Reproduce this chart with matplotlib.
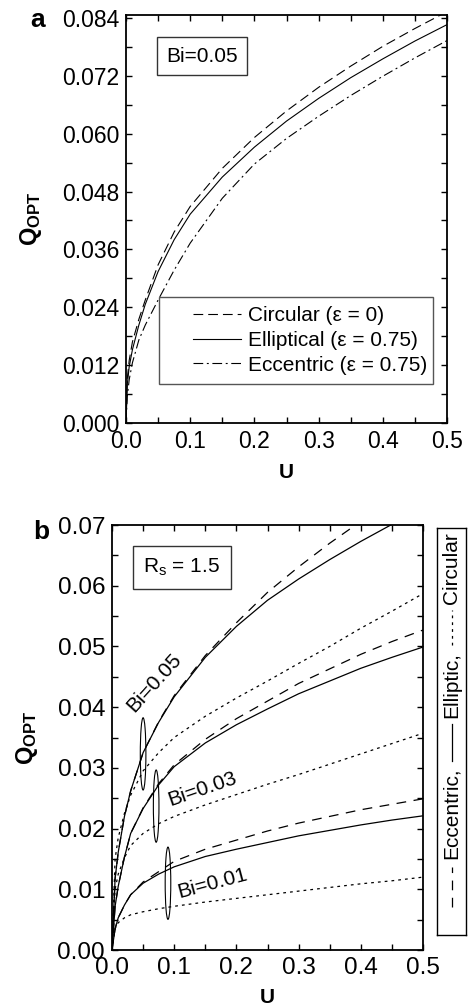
import matplotlib
matplotlib.use("Agg")
import matplotlib.pyplot as plt
from matplotlib.patches import Ellipse, Rectangle
from matplotlib.ticker import MultipleLocator

plt.rcParams['font.family'] = ['Liberation Sans', 'DejaVu Sans']
plt.rcParams['mathtext.fontset'] = 'custom'
plt.rcParams['mathtext.rm'] = 'Liberation Sans'
plt.rcParams['mathtext.it'] = 'Liberation Sans:italic'
plt.rcParams['mathtext.bf'] = 'Liberation Sans:bold'
plt.rcParams['lines.scale_dashes'] = False

# ---- panel a data (Bi = 0.05) ----
u_a = [0, 0.002, 0.005, 0.01, 0.02, 0.03, 0.05, 0.075, 0.1, 0.15,
       0.2, 0.25, 0.3, 0.35, 0.4, 0.45, 0.5]
q_circular_a = [0, 0.0092, 0.0130, 0.0168, 0.0215, 0.0255, 0.0328, 0.0396, 0.0449,
                0.0528, 0.0592, 0.0647, 0.0696, 0.0740, 0.0781, 0.0818, 0.0853]
q_elliptical_a = [0, 0.0080, 0.0117, 0.0152, 0.0203, 0.0246, 0.0314, 0.0380, 0.0433,
                  0.0510, 0.0572, 0.0626, 0.0673, 0.0716, 0.0755, 0.0792, 0.0826]
q_eccentric_a = [0, 0.0055, 0.0090, 0.0125, 0.0172, 0.0203, 0.0255, 0.0317, 0.0373,
                 0.0466, 0.0537, 0.0590, 0.0636, 0.0679, 0.0719, 0.0757, 0.0793]
labels_a = ["Circular (\u03b5 = 0)", "Elliptical (\u03b5 = 0.75)", "Eccentric (\u03b5 = 0.75)"]

# ---- panel b data (Rs = 1.5) ----
u_b = [0, 0.005, 0.01, 0.02, 0.03, 0.05, 0.075, 0.1, 0.15,
       0.2, 0.25, 0.3, 0.35, 0.4, 0.45, 0.5]
bi_values = ["0.05", "0.03", "0.01"]
q_eccentric_b = {
    "0.05": [0, 0.0118, 0.0161, 0.0220, 0.0262, 0.0325, 0.0376, 0.0419, 0.0485,
             0.0539, 0.0589, 0.0631, 0.0670, 0.0706, 0.0741, 0.0772],
    "0.03": [0, 0.0072, 0.0105, 0.0153, 0.0192, 0.0234, 0.0274, 0.0305, 0.0347,
             0.0381, 0.0410, 0.0439, 0.0463, 0.0487, 0.0508, 0.0527],
    "0.01": [0, 0.0035, 0.0053, 0.0074, 0.0091, 0.0112, 0.0129, 0.0146, 0.0166,
             0.0181, 0.0196, 0.0209, 0.0220, 0.0231, 0.0240, 0.0249],
}
q_elliptic_b = {
    "0.05": [0, 0.0118, 0.0161, 0.0220, 0.0262, 0.0325, 0.0375, 0.0417, 0.0482,
             0.0533, 0.0576, 0.0611, 0.0643, 0.0673, 0.0701, 0.0727],
    "0.03": [0, 0.0072, 0.0105, 0.0153, 0.0192, 0.0233, 0.0272, 0.0302, 0.0341,
             0.0371, 0.0397, 0.0422, 0.0443, 0.0464, 0.0482, 0.0499],
    "0.01": [0, 0.0035, 0.0053, 0.0074, 0.0091, 0.0110, 0.0125, 0.0137, 0.0154,
             0.0166, 0.0177, 0.0188, 0.0197, 0.0206, 0.0214, 0.0221],
}
q_circular_b = {
    "0.05": [0, 0.0150, 0.0185, 0.0225, 0.0255, 0.0295, 0.0325, 0.0350, 0.0385,
             0.0415, 0.0443, 0.0472, 0.0500, 0.0530, 0.0558, 0.0587],
    "0.03": [0, 0.0100, 0.0125, 0.0152, 0.0172, 0.0192, 0.0208, 0.0220, 0.0239,
             0.0256, 0.0273, 0.0289, 0.0306, 0.0323, 0.0340, 0.0357],
    "0.01": [0, 0.0035, 0.0045, 0.0053, 0.0058, 0.0063, 0.0068, 0.0072, 0.0079,
             0.0085, 0.0091, 0.0097, 0.0103, 0.0109, 0.0114, 0.0120],
}
# annotation ellipses / labels for each Bi group (U, Q)
ellipse_pos = {"0.05": (0.050, 0.0323), "0.03": (0.071, 0.0237), "0.01": (0.090, 0.0110)}
label_pos = {"0.05": (0.068, 0.0440, 48), "0.03": (0.146, 0.0265, 19), "0.01": (0.161, 0.0110, 15)}

W, H = 468, 1005
fig = plt.figure(figsize=(W / 100, H / 100), dpi=100)


def style_axes(ax, fs):
    for s in ax.spines.values():
        s.set_linewidth(1.3)
    ax.tick_params(which='both', direction='in', top=True, right=True,
                   length=4, width=1, labelsize=fs, pad=5)


# ---------------- panel a ----------------
ax1 = fig.add_axes([126 / W, 1 - 423 / H, 321 / W, 408 / H])
ax1.plot(u_a, q_circular_a, color='black', lw=0.8, dashes=(7, 3.6), label=labels_a[0])
ax1.plot(u_a, q_elliptical_a, color='black', lw=0.8, label=labels_a[1])
ax1.plot(u_a, q_eccentric_a, color='black', lw=0.8, dashes=(7, 2.6, 1.4, 2.6), label=labels_a[2])
ax1.set_xlim(0, 0.5)
ax1.set_ylim(0, 0.0846)
ax1.xaxis.set_major_locator(MultipleLocator(0.1))
ax1.xaxis.set_minor_locator(MultipleLocator(0.05))
ax1.yaxis.set_major_locator(MultipleLocator(0.012))
ax1.yaxis.set_minor_locator(MultipleLocator(0.006))
ax1.xaxis.set_major_formatter(lambda v, p: f"{v:.1f}")
ax1.yaxis.set_major_formatter(lambda v, p: f"{v:.3f}")
style_axes(ax1, 16.5)
ax1.set_xlabel("U", fontsize=15, fontweight='bold')
ax1.xaxis.set_label_coords(0.5, -0.098)
ax1.set_ylabel(r"$\mathbf{Q}_{\mathbf{OPT}}$", fontsize=17)
ax1.yaxis.set_label_coords(-0.255, 0.5)
# legend box is wider than its contents (extra space on the left)
ax1.add_patch(Rectangle((0.103, 0.0956), 0.853, 0.213, transform=ax1.transAxes,
                        fill=True, fc='white', ec='#555555', lw=1.0, zorder=4))
leg = ax1.legend(loc='center', bbox_to_anchor=(0.573, 0.202), fontsize=15,
                 frameon=False, handlelength=2.3, handletextpad=0.35,
                 labelspacing=0.27, borderpad=0.0)
leg.set_zorder(5)
ax1.text(0.237, 0.899, "Bi=0.05", transform=ax1.transAxes, fontsize=15,
         ha='center', va='center',
         bbox=dict(boxstyle='square,pad=0.45', fc='white', ec='#333333', lw=1.0))
fig.text(30 / W, 1 - 20 / H, "a", fontsize=19, fontweight='bold', ha='left', va='center')

# ---------------- panel b ----------------
ax2 = fig.add_axes([112 / W, 1 - 950 / H, 311 / W, 425 / H])
for bi in bi_values:
    ax2.plot(u_b, q_eccentric_b[bi], color='black', lw=0.9, dashes=(7, 5.4))
    ax2.plot(u_b, q_elliptic_b[bi], color='black', lw=0.9)
    ax2.plot(u_b, q_circular_b[bi], color='black', lw=0.9, dashes=(2.0, 2.9))
    ex, ey = ellipse_pos[bi]
    ax2.add_patch(Ellipse((ex, ey), width=0.009, height=0.0119, fill=False,
                          lw=0.8, color='black'))
    lx, ly, rot = label_pos[bi]
    ax2.text(lx, ly, "Bi=" + bi, fontsize=15, rotation=rot, rotation_mode='anchor',
             ha='center', va='center')
ax2.set_xlim(0, 0.5)
ax2.set_ylim(0, 0.07)
ax2.xaxis.set_major_locator(MultipleLocator(0.1))
ax2.xaxis.set_minor_locator(MultipleLocator(0.05))
ax2.yaxis.set_major_locator(MultipleLocator(0.01))
ax2.yaxis.set_minor_locator(MultipleLocator(0.005))
ax2.xaxis.set_major_formatter(lambda v, p: f"{v:.1f}")
ax2.yaxis.set_major_formatter(lambda v, p: f"{v:.2f}")
style_axes(ax2, 17.5)
ax2.set_xlabel("U", fontsize=15, fontweight='bold')
ax2.xaxis.set_label_coords(0.5, -0.089)
ax2.set_ylabel(r"$\mathbf{Q}_{\mathbf{OPT}}$", fontsize=17)
ax2.yaxis.set_label_coords(-0.23, 0.5)
ax2.text(0.225, 0.90, r"R$_\mathregular{s}$ = 1.5", transform=ax2.transAxes, fontsize=15,
         ha='center', va='center',
         bbox=dict(boxstyle='square,pad=0.5', fc='white', ec='#333333', lw=1.0))
fig.text(33 / W, 1 - 532 / H, "b", fontsize=19, fontweight='bold', ha='left', va='center')

# vertical legend box for panel b
lax = fig.add_axes([437 / W, 1 - 935 / H, 29 / W, 407 / H])
lax.set_xlim(0, 1)
lax.set_ylim(0, 407)
lax.set_xticks([])
lax.set_yticks([])
for s in lax.spines.values():
    s.set_linewidth(1.0)
lax.plot([0.5, 0.5], [28, 68], color='black', lw=0.9, dashes=(7, 5.4))
lax.text(0.5, 76, "Eccentric,", rotation=90, fontsize=15, ha='center', va='bottom')
lax.plot([0.5, 0.5], [174, 211], color='black', lw=0.9)
lax.text(0.5, 217, "Elliptic,", rotation=90, fontsize=15, ha='center', va='bottom')
lax.plot([0.5, 0.5], [290, 325], color='black', lw=0.9, dashes=(2.0, 2.9))
lax.text(0.5, 331, "Circular", rotation=90, fontsize=15, ha='center', va='bottom')

fig.savefig("out.png", dpi=100)
